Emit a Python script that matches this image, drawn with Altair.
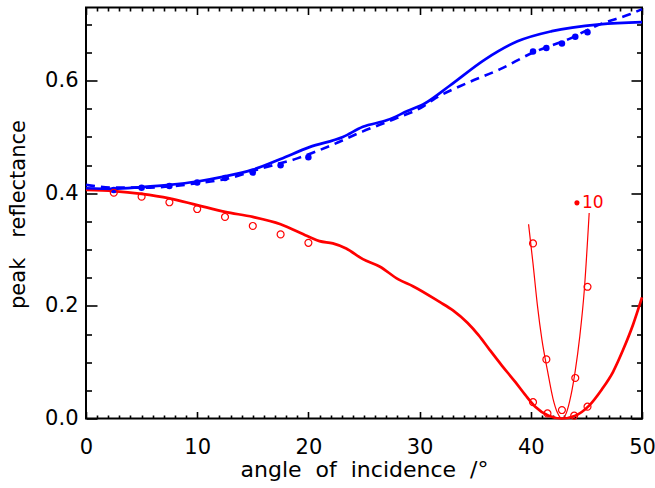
import altair as alt
import pandas as pd

# ---------------- data ----------------
# thick red curve (theory, reflectance at minimum)
red_x = [0, 2.5, 5, 7.5, 10, 12.5, 15, 17.5, 19.9, 21.0, 22.2, 23.4, 24.9, 26.4, 28.1,
         29.4, 31.8, 33.0, 34.3, 35.3, 36.3, 37.4, 38.6, 39.5, 40.4, 41.6, 42.8, 44.0,
         45.2, 46.4, 47.4, 48.3, 49.2, 50]
red_y = [0.406, 0.404, 0.399, 0.391, 0.379, 0.367, 0.358, 0.345, 0.324, 0.315, 0.311,
         0.302, 0.283, 0.270, 0.247, 0.235, 0.207, 0.192, 0.170, 0.148, 0.122, 0.094,
         0.065, 0.042, 0.021, 0.005, 0.000, 0.005, 0.022, 0.052, 0.083, 0.122, 0.167,
         0.215]

# thick blue solid curve
blue_x = [0, 2.5, 5, 7.5, 10, 12.5, 15, 17.5, 20.1, 23.1, 24.9, 27.1, 28.9, 30.5, 32.7,
          35.9, 38.8, 41.9, 46.2, 50]
blue_y = [0.409, 0.408, 0.411, 0.415, 0.421, 0.430, 0.442, 0.461, 0.482, 0.500, 0.518,
          0.530, 0.546, 0.560, 0.591, 0.638, 0.670, 0.688, 0.700, 0.704]

# blue dashed curve
dash_x = [0, 2.5, 5, 7.5, 10, 12.5, 15.9, 19.0, 21.9, 24.9, 28.0, 30.3, 31.2, 34.3, 37.2,
          40.2, 43.3, 46.2, 48.9, 50]
dash_y = [0.415, 0.410, 0.410, 0.412, 0.418, 0.425, 0.445, 0.462, 0.484, 0.510, 0.534,
          0.554, 0.566, 0.596, 0.620, 0.650, 0.673, 0.700, 0.718, 0.727]

# thin red parabola (fit near the minimum)
par_x = [39.8, 40.2, 40.6, 41.0, 41.5, 42.0, 42.4, 42.8, 43.2, 43.6, 44.0, 44.4, 44.8, 45.25]
par_y = [0.345, 0.275, 0.200, 0.140, 0.085, 0.035, 0.010, 0.000, 0.010, 0.040, 0.085,
         0.145, 0.225, 0.365]

# blue filled dots
bdot_x = [2.5, 5, 7.5, 10, 12.5, 15, 17.5, 20, 40.2, 41.4, 42.8, 44.0, 45.1]
bdot_y = [0.406, 0.410, 0.413, 0.419, 0.427, 0.437, 0.450, 0.464, 0.652, 0.658, 0.666,
          0.678, 0.686]

# red open circles
rc_x = [2.5, 5, 7.5, 10, 12.5, 15, 17.5, 20, 40.2, 41.4, 44.0, 45.1, 40.2, 41.5, 42.8,
        43.9, 45.1]
rc_y = [0.401, 0.394, 0.384, 0.372, 0.358, 0.342, 0.327, 0.312, 0.311, 0.105, 0.072,
        0.234, 0.029, 0.009, 0.015, 0.005, 0.021]

# red marker label
lab_dot_x = [44.15]
lab_dot_y = [0.383]
lab_x = [44.6]
lab_y = [0.383]
lab_text = ["10"]

x_major = [0, 10, 20, 30, 40, 50]
x_minor = [v for v in range(1, 50) if v % 10 != 0]
y_major = [0.0, 0.2, 0.4, 0.6]
y_minor = [0.05, 0.1, 0.15, 0.25, 0.3, 0.35, 0.45, 0.5, 0.55, 0.65, 0.7]

# ---------------- chart ----------------
W, H = 556, 411
FONT = "DejaVu Sans"
BLUE = "#0000ff"
RED = "#ff0000"

xs = alt.Scale(domain=[0, 50], nice=False, zero=False)
ys = alt.Scale(domain=[0, 0.73], nice=False, zero=False)


def tick_axis(orient, offset, values, size):
    return alt.Axis(orient=orient, offset=offset, values=values, labels=False,
                    domain=False, grid=False, ticks=True, tickSize=size,
                    tickWidth=1.6, tickColor="black", title=None)


ax_x_lab = alt.Axis(orient="bottom", values=x_major, format="d", ticks=False, tickSize=0,
                    domain=False, grid=False, labelFont=FONT, labelFontSize=21,
                    labelColor="black", labelPadding=17.5, labelFlush=False,
                    labelOverlap=False,
                    title="angle\u00a0\u00a0of\u00a0\u00a0incidence\u00a0\u00a0/°",
                    titleFont=FONT, titleFontSize=22, titleFontWeight="normal",
                    titleColor="black", titleX=W / 2, titleY=58,
                    titleBaseline="alphabetic", titleAlign="center")
ax_y_lab = alt.Axis(orient="left", values=y_major, format=".1f", ticks=False, tickSize=0,
                    domain=False, grid=False, labelFont=FONT, labelFontSize=21,
                    labelColor="black", labelPadding=8, labelFlush=False,
                    labelOverlap=False,
                    title="peak\u00a0\u00a0\u00a0reflectance",
                    titleFont=FONT, titleFontSize=21, titleFontWeight="normal",
                    titleColor="black", titleAngle=270, titleX=-62, titleY=206.5,
                    titleBaseline="alphabetic", titleAlign="center")

red_df = pd.DataFrame({"x": red_x, "y": red_y})
blue_df = pd.DataFrame({"x": blue_x, "y": blue_y})
dash_df = pd.DataFrame({"x": dash_x, "y": dash_y})
par_df = pd.DataFrame({"x": par_x, "y": par_y})
bdot_df = pd.DataFrame({"x": bdot_x, "y": bdot_y})
rc_df = pd.DataFrame({"x": rc_x, "y": rc_y})
ldot_df = pd.DataFrame({"x": lab_dot_x, "y": lab_dot_y})
lab_df = pd.DataFrame({"x": lab_x, "y": lab_y, "t": lab_text})

red_line = alt.Chart(red_df).mark_line(color=RED, strokeWidth=2.7,
                                       interpolate="monotone").encode(
    x=alt.X("x:Q", scale=xs, axis=ax_x_lab),
    y=alt.Y("y:Q", scale=ys, axis=ax_y_lab),
    order="x:Q")

blue_line = alt.Chart(blue_df).mark_line(color=BLUE, strokeWidth=2.7,
                                         interpolate="monotone").encode(
    x=alt.X("x:Q", scale=xs, axis=tick_axis("top", -H, x_major, 7)),
    y=alt.Y("y:Q", scale=ys, axis=tick_axis("right", -W, y_major, 11)),
    order="x:Q")

dash_line = alt.Chart(dash_df).mark_line(color=BLUE, strokeWidth=2.6, strokeDash=[9, 6],
                                         interpolate="monotone").encode(
    x=alt.X("x:Q", scale=xs, axis=tick_axis("top", -H, x_minor, 3.5)),
    y=alt.Y("y:Q", scale=ys, axis=tick_axis("right", -W, y_minor, 5.5)),
    order="x:Q")

par_line = alt.Chart(par_df).mark_line(color=RED, strokeWidth=1.2,
                                       interpolate="monotone").encode(
    x=alt.X("x:Q", scale=xs, axis=tick_axis("bottom", -H, x_major, 7)),
    y=alt.Y("y:Q", scale=ys, axis=tick_axis("left", -W, y_major, 11)),
    order="x:Q")

bdots = alt.Chart(bdot_df).mark_point(filled=True, color=BLUE, size=42, opacity=1).encode(
    x=alt.X("x:Q", scale=xs, axis=tick_axis("bottom", -H, x_minor, 3.5)),
    y=alt.Y("y:Q", scale=ys, axis=tick_axis("left", -W, y_minor, 5.5)))

rcirc = alt.Chart(rc_df).mark_point(filled=False, color=RED, size=48, strokeWidth=1.2,
                                    opacity=1).encode(
    x=alt.X("x:Q", scale=xs, axis=None),
    y=alt.Y("y:Q", scale=ys, axis=None))

ldot = alt.Chart(ldot_df).mark_point(filled=True, color=RED, size=26, opacity=1).encode(
    x=alt.X("x:Q", scale=xs, axis=None),
    y=alt.Y("y:Q", scale=ys, axis=None))

ltext = alt.Chart(lab_df).mark_text(align="left", baseline="middle", font=FONT,
                                    fontSize=17, color=RED).encode(
    x=alt.X("x:Q", scale=xs, axis=None),
    y=alt.Y("y:Q", scale=ys, axis=None),
    text="t:N")

chart = alt.layer(red_line, blue_line, dash_line, par_line, bdots, rcirc, ldot, ltext).resolve_axis(
    x="independent", y="independent"
).properties(
    width=W, height=H,
    autosize=alt.AutoSizeParams(type="none"),
    padding={"left": 86, "top": 7.5, "right": 13, "bottom": 69},
    background="white",
).configure_view(stroke="black", strokeWidth=2)

chart.save("out.html", embed_options={"renderer": "svg", "actions": False})
